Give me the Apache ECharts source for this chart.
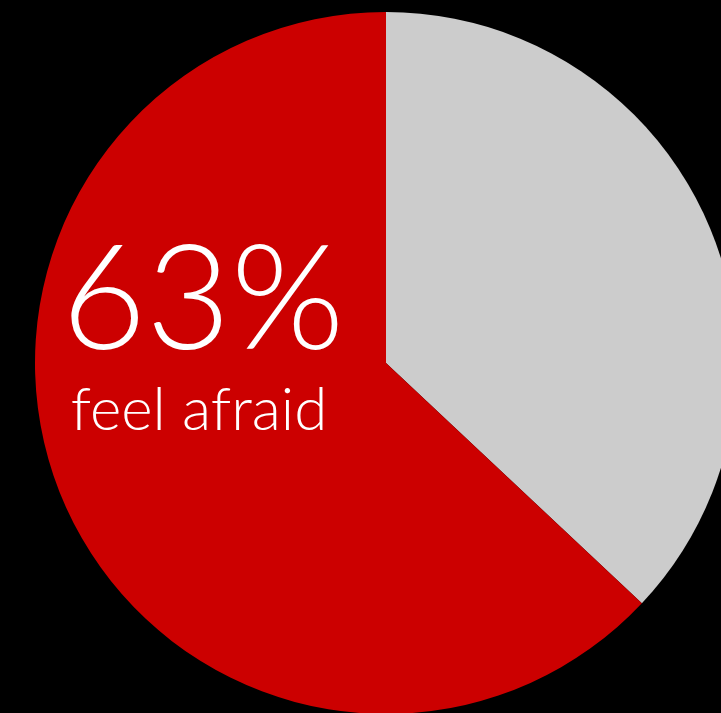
<!DOCTYPE html>
<html><head><meta charset="utf-8">
<script src="https://cdn.jsdelivr.net/npm/echarts@6/dist/echarts.min.js"></script>
<style>html,body{margin:0;padding:0;background:#000;}#c{width:721px;height:713px;}</style>
</head><body><div id="c"></div>
<script>
const categories = ['other', 'feel afraid'];
const values = [37, 63];
const colors = ['#cccccc', '#cc0000'];
const bigLabel = '63%';
const subLabel = 'feel afraid';

const chart = echarts.init(document.getElementById('c'), null, {renderer: 'canvas'});
chart.setOption({
  backgroundColor: '#000000',
  animation: false,
  series: [{
    type: 'pie',
    center: [386, 363],
    radius: [0, 351],
    startAngle: 90,
    clockwise: true,
    label: {show: false},
    labelLine: {show: false},
    emphasis: {disabled: true},
    itemStyle: {borderWidth: 0},
    data: categories.map((c, i) => ({name: c, value: values[i], itemStyle: {color: colors[i]}}))
  }],
  graphic: {
    elements: [
      {type: 'text', x: 203, y: 375, z: 100, silent: true,
       style: {text: bigLabel, fill: '#ffffff', fontSize: 146, fontWeight: 300, fontFamily: 'Lato', align: 'center', verticalAlign: 'bottom'}},
      {type: 'text', x: 199, y: 441, z: 100, silent: true,
       style: {text: subLabel, fill: '#ffffff', fontSize: 60, fontWeight: 300, fontFamily: 'Lato', align: 'center', verticalAlign: 'bottom'}}
    ]
  }
});
</script></body></html>
